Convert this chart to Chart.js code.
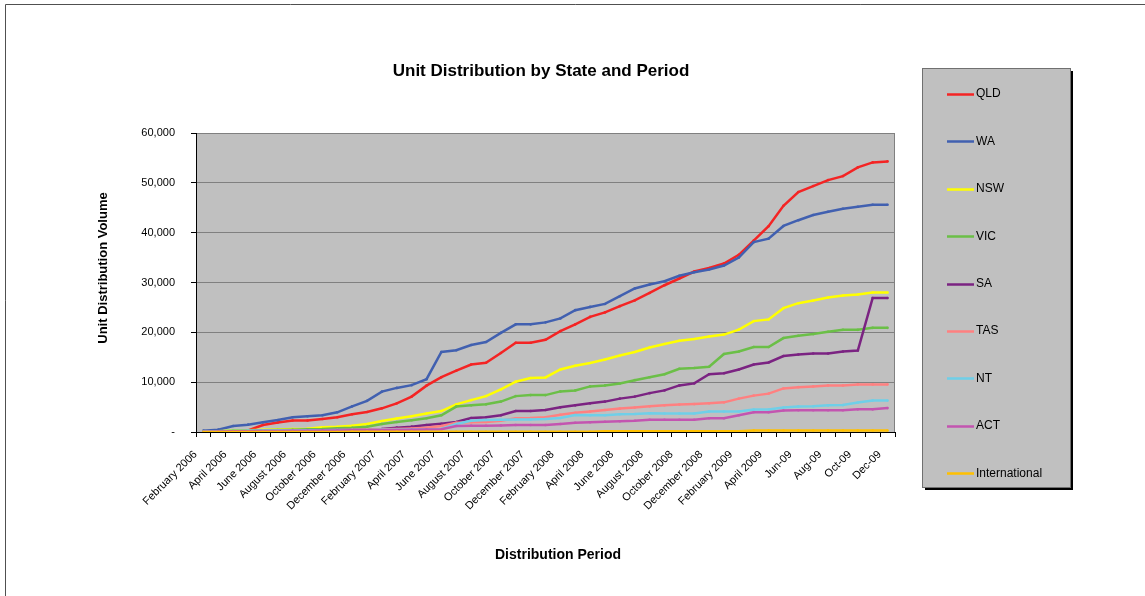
<!DOCTYPE html>
<html>
<head>
<meta charset="utf-8">
<script src="https://cdn.jsdelivr.net/npm/chart.js@4.4.1/dist/chart.umd.min.js"></script>
<style>
html, body { margin: 0; padding: 0; background: #fff; }
canvas { display: block; }
</style>
</head>
<body>
<canvas id="chart" width="1145" height="596"></canvas>
<script>
// monthly periods, Feb 2006 - Dec 2009
const periods = [
    'February 2006', 'March 2006', 'April 2006', 'May 2006', 'June 2006', 'July 2006',
    'August 2006', 'September 2006', 'October 2006', 'November 2006', 'December 2006',
    'January 2007', 'February 2007', 'March 2007', 'April 2007', 'May 2007', 'June 2007',
    'July 2007', 'August 2007', 'September 2007', 'October 2007', 'November 2007', 'December 2007',
    'January 2008', 'February 2008', 'March 2008', 'April 2008', 'May 2008', 'June 2008',
    'July 2008', 'August 2008', 'September 2008', 'October 2008', 'November 2008', 'December 2008',
    'January 2009', 'February 2009', 'March 2009', 'April 2009', 'May-09', 'Jun-09',
    'Jul-09', 'Aug-09', 'Sep-09', 'Oct-09', 'Nov-09', 'Dec-09'
];

const qld = [0, 0, 0, 300, 1400, 1900, 2300, 2300, 2600, 2950, 3550, 4000, 4750, 5750, 7100, 9300,
    11000, 12300, 13550, 13900, 15850, 17900, 17900, 18500, 20250, 21600, 23100, 24000, 25250, 26400,
    27900, 29450, 30800, 32200, 32900, 33800, 35550, 38400, 41300, 45400, 48150, 49350, 50550, 51350,
    53100, 54100, 54300];
const wa = [270, 470, 1200, 1470, 1940, 2400, 2950, 3150, 3350, 3950, 5150, 6250, 8100, 8850, 9400, 10600,
    16050, 16400, 17450, 18050, 19900, 21600, 21600, 22000, 22800, 24450, 25100, 25700, 27250, 28800,
    29600, 30250, 31350, 32050, 32600, 33400, 35000, 38100, 38800, 41350, 42500, 43550, 44200, 44800,
    45200, 45600, 45600];
const nsw = [100, 150, 300, 350, 450, 500, 600, 650, 950, 1050, 1250, 1600, 2200, 2700, 3150, 3700,
    4200, 5550, 6400, 7200, 8550, 10100, 10850, 10950, 12550, 13300, 13850, 14550, 15350, 16050,
    16950, 17650, 18300, 18650, 19150, 19550, 20550, 22250, 22600, 24850, 25850, 26400, 27000, 27400,
    27600, 28000, 28000];
const vic = [50, 100, 250, 300, 350, 400, 450, 550, 600, 750, 850, 1050, 1600, 2000, 2350, 2750,
    3350, 5100, 5350, 5550, 6100, 7200, 7400, 7400, 8150, 8350, 9150, 9350, 9750, 10400,
    11000, 11600, 12700, 12850, 13100, 15650, 16150, 17050, 17050, 18850, 19300, 19650, 20100, 20500,
    20500, 20900, 20900];
const sa = [0, 50, 100, 150, 200, 200, 250, 300, 350, 400, 450, 500, 600, 870, 1070, 1400,
    1670, 2000, 2800, 2950, 3350, 4200, 4200, 4400, 4950, 5350, 5750, 6100, 6700, 7100,
    7800, 8350, 9350, 9750, 11600, 11800, 12550, 13550, 13950, 15250, 15550, 15750, 15750, 16150,
    16350, 26900, 26900];
const tas = [50, 100, 150, 200, 200, 250, 300, 300, 350, 400, 450, 500, 550, 600, 700, 850,
    1200, 1850, 1950, 2000, 2250, 2750, 2800, 2950, 3450, 3850, 4100, 4400, 4700, 4900,
    5150, 5350, 5500, 5600, 5750, 5950, 6700, 7300, 7700, 8750, 9000, 9150, 9350, 9350,
    9550, 9550, 9550];
const nt = [100, 150, 200, 250, 300, 300, 300, 350, 350, 400, 400, 400, 450, 450, 500, 500,
    600, 1600, 2250, 2400, 2450, 2500, 2500, 2600, 2800, 3400, 3350, 3350, 3550, 3600,
    3750, 3700, 3700, 3700, 4100, 4100, 4100, 4500, 4500, 4900, 5100, 5150, 5350, 5400,
    5900, 6300, 6300];
const act = [50, 100, 150, 150, 200, 200, 250, 250, 300, 300, 350, 350, 400, 400, 450, 500,
    550, 1200, 1250, 1250, 1300, 1400, 1400, 1400, 1600, 1850, 1950, 2050, 2150, 2250,
    2450, 2450, 2450, 2450, 2750, 2750, 3350, 3950, 3950, 4300, 4350, 4350, 4350, 4350,
    4550, 4550, 4800];
const intl = [0, 0, 0, 0, 0, 0, 0, 0, 0, 0, 50, 50, 50, 50, 50, 50,
    50, 50, 50, 50, 50, 50, 50, 50, 50, 50, 50, 150, 150, 150,
    150, 150, 150, 150, 150, 150, 150, 300, 300, 300, 300, 300, 300, 300,
    300, 300, 300];

const seriesNames = ['QLD', 'WA', 'NSW', 'VIC', 'SA', 'TAS', 'NT', 'ACT', 'International'];
const seriesData = [qld, wa, nsw, vic, sa, tas, nt, act, intl];
const seriesColors = ['#F42424', '#4160B0', '#FFFF00', '#6BBF47', '#7B2382', '#FF8080', '#6FCFE8', '#C355B0', '#FFC000'];

const yTicks = [0, 10000, 20000, 30000, 40000, 50000, 60000];

const FONT = '"Liberation Sans", Arial, sans-serif';

const datasets = seriesNames.map((name, i) => ({
    label: name,
    data: seriesData[i],
    borderColor: seriesColors[i],
    backgroundColor: seriesColors[i],
    borderWidth: 2.5,
    pointRadius: 1.3,
    pointBorderWidth: 0,
    tension: 0,
    order: seriesNames.length - i
}));

const framePlugin = {
    id: 'frame',
    beforeDraw(chart) {
        const ctx = chart.ctx;
        const a = chart.chartArea;
        ctx.save();
        ctx.fillStyle = '#fff';
        ctx.fillRect(0, 0, chart.width, chart.height);
        ctx.strokeStyle = '#505050';
        ctx.lineWidth = 1;
        ctx.beginPath();
        ctx.moveTo(5.5, chart.height);
        ctx.lineTo(5.5, 4.5);
        ctx.lineTo(chart.width, 4.5);
        ctx.stroke();
        ctx.fillStyle = '#C0C0C0';
        ctx.fillRect(a.left, a.top, a.right - a.left, a.bottom - a.top);
        ctx.restore();
    },
    beforeDatasetsDraw(chart) {
        const ctx = chart.ctx;
        const a = chart.chartArea;
        ctx.save();
        ctx.strokeStyle = '#808080';
        ctx.lineWidth = 1;
        ctx.beginPath();
        ctx.moveTo(a.right - 0.5, a.top);
        ctx.lineTo(a.right - 0.5, a.bottom);
        ctx.stroke();
        ctx.restore();
    },
    afterDraw(chart) {
        const ctx = chart.ctx;
        ctx.save();
        // titles
        ctx.fillStyle = '#000';
        ctx.textAlign = 'center';
        ctx.textBaseline = 'middle';
        ctx.font = 'bold 17px ' + FONT;
        ctx.fillText('Unit Distribution by State and Period', 541, 71);
        ctx.font = 'bold 14px ' + FONT;
        ctx.fillText('Distribution Period', 558, 555);
        ctx.translate(103, 268);
        ctx.rotate(-Math.PI / 2);
        ctx.font = 'bold 13px ' + FONT;
        ctx.fillText('Unit Distribution Volume', 0, 0);
        ctx.restore();

        // legend box
        ctx.save();
        const lx = 922, ly = 68, lw = 148, lh = 419;
        ctx.fillStyle = '#000';
        ctx.fillRect(lx + 3, ly + 3, lw, lh);
        ctx.fillStyle = '#C0C0C0';
        ctx.fillRect(lx, ly, lw, lh);
        ctx.strokeStyle = '#707070';
        ctx.lineWidth = 1;
        ctx.strokeRect(lx + 0.5, ly + 0.5, lw, lh);
        ctx.font = '12px ' + FONT;
        ctx.textAlign = 'left';
        ctx.textBaseline = 'middle';
        chart.data.datasets.forEach((ds, i) => {
            const y = 94 + i * 47.4;
            ctx.strokeStyle = ds.borderColor;
            ctx.lineWidth = 2.5;
            ctx.beginPath();
            ctx.moveTo(947, Math.round(y) + 0.5);
            ctx.lineTo(974, Math.round(y) + 0.5);
            ctx.stroke();
            ctx.fillStyle = '#000';
            ctx.fillText(ds.label, 976, y);
        });
        ctx.restore();
    }
};

new Chart(document.getElementById('chart'), {
    type: 'line',
    data: { labels: periods, datasets: datasets },
    plugins: [framePlugin],
    options: {
        responsive: false,
        animation: false,
        devicePixelRatio: 1,
        layout: { padding: { top: 133, right: 250, left: 0, bottom: 0 } },
        plugins: {
            legend: { display: false },
            title: { display: false },
            tooltip: { enabled: false }
        },
        scales: {
            x: {
                offset: true,
                afterFit(s) { s.height = 164; },
                grid: {
                    offset: true,
                    drawOnChartArea: false,
                    tickLength: 5,
                    tickColor: '#000'
                },
                border: { color: '#000', width: 1 },
                ticks: {
                    autoSkip: false,
                    minRotation: 45,
                    maxRotation: 45,
                    padding: 11,
                    labelOffset: -8,
                    color: '#000',
                    font: { family: FONT, size: 11 },
                    callback(v, i) { return i % 2 === 0 ? periods[i] : ''; }
                }
            },
            y: {
                min: yTicks[0],
                max: yTicks[yTicks.length - 1],
                afterFit(s) { s.width = 196; },
                afterBuildTicks(s) { s.ticks = yTicks.map(v => ({ value: v })); },
                grid: {
                    color: '#808080',
                    lineWidth: 1,
                    tickLength: 5,
                    tickColor: '#000'
                },
                border: { color: '#000', width: 1 },
                ticks: {
                    padding: 16,
                    color: '#000',
                    font: { family: FONT, size: 11 },
                    callback(v) { return v === 0 ? '-' : v.toLocaleString('en-US'); }
                }
            }
        }
    }
});
</script>
</body>
</html>
